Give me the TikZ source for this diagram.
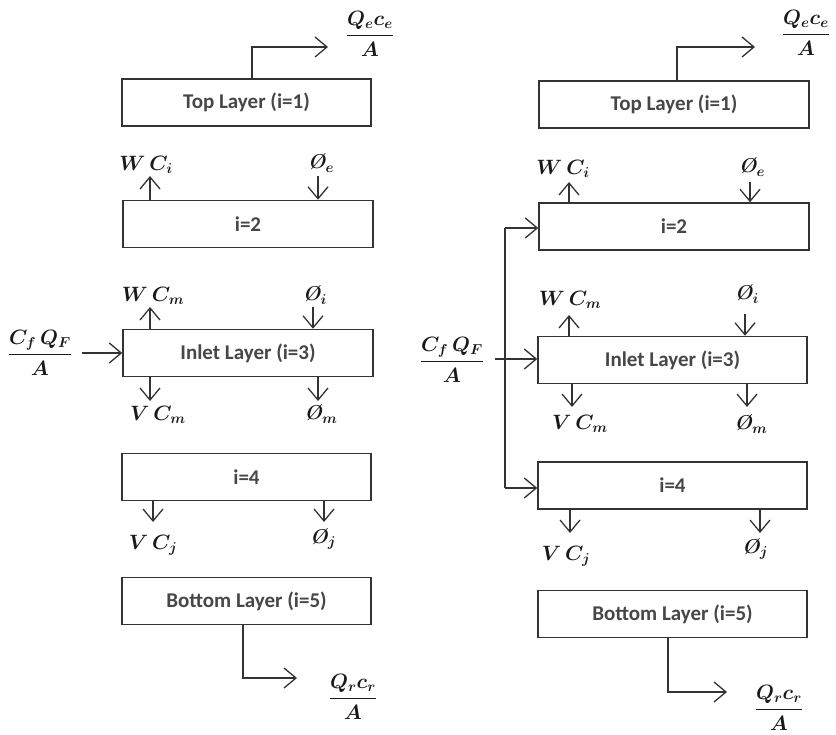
\documentclass[tikz,border=0pt]{standalone}
\usepackage{amsmath}
\usepackage{fontspec}
\newfontfamily\carlito{Carlito}
\usetikzlibrary{arrows.meta}
\newcommand{\bxfont}{\carlito\bfseries\fontsize{21}{24}\selectfont}
\newcommand{\lbfont}{\fontsize{20}{23}\selectfont\boldmath}
\newcommand{\frfont}{\fontsize{20}{23}\selectfont\boldmath}
\newcommand{\OO}{\text{\bfseries\itshape Ø}}
\begin{document}
\begin{tikzpicture}[x=1pt,y=-1pt,
  box/.style={draw=black!80, line width=1.5pt, minimum height=47pt, inner sep=0pt, font=\bxfont, text=black!72},
  arr/.style={draw=black!80, line width=1.3pt, -{Straight Barb[length=12pt,width=20pt,line width=1.3pt]}},
  ln/.style={draw=black!80, line width=1.3pt},
  lab/.style={font=\lbfont, inner sep=0pt, text=black!90},
  frac/.style={font=\frfont, inner sep=0pt, text=black!90}]
\useasboundingbox (0,0) rectangle (836,735);
% ---------------- left column ----------------
\node[box, minimum width=249pt] (t1) at (246.5,102.5) {Top Layer (i=1)};
\node[box, minimum width=250pt] (t2) at (248,224) {i=2};
\node[box, minimum width=250pt] (t3) at (248,353) {Inlet Layer (i=3)};
\node[box, minimum width=249pt] (t4) at (246.5,477) {i=4};
\node[box, minimum width=249pt] (t5) at (246.5,601) {Bottom Layer (i=5)};
\node[frac] (qeL) at (370,34) {$\dfrac{Q_e c_e}{A}$};
\node[lab] (wciL) at (146,165) {$W\,C_i$};
\node[lab] (oeL) at (321,163) {$\OO_e$};
\node[lab] (wcmL) at (153,296) {$W\,C_m$};
\node[lab] (oiL) at (315,295) {$\OO_i$};
\node[frac] (cfL) at (40,353) {$\dfrac{C_f\,Q_F}{A}$};
\node[lab] (vcmL) at (158,415) {$V\,C_m$};
\node[lab] (omL) at (321,414) {$\OO_m$};
\node[lab] (vcjL) at (153,545) {$V\,C_j$};
\node[lab] (ojL) at (323,539) {$\OO_j$};
\node[frac] (qrL) at (353,697) {$\dfrac{Q_r c_r}{A}$};
\coordinate (a1) at (252,47);
\coordinate (a1e) at (328,47);
\coordinate (a2) at (150,176);
\coordinate (a3) at (318,176);
\coordinate (a4) at (150,307);
\coordinate (a5) at (313,307);
\coordinate (a6) at (82,353);
\coordinate (a7) at (150,401);
\coordinate (a8) at (318,401);
\coordinate (a9) at (153,522);
\coordinate (a10) at (324,522);
\coordinate (a11) at (243,678);
\coordinate (a11e) at (297,678);
\draw[arr] (t1.north -| a1) -- (a1) -- (a1e);
\draw[arr] (t2.north -| a2) -- (a2);
\draw[arr] (a3) -- (t2.north -| a3);
\draw[arr] (t3.north -| a4) -- (a4);
\draw[arr] (a5) -- (t3.north -| a5);
\draw[arr] (a6) -- (t3.west |- a6);
\draw[arr] (t3.south -| a7) -- (a7);
\draw[arr] (t3.south -| a8) -- (a8);
\draw[arr] (t4.south -| a9) -- (a9);
\draw[arr] (t4.south -| a10) -- (a10);
\draw[arr] (t5.south -| a11) -- (a11) -- (a11e);
% ---------------- right column ----------------
\node[box, minimum width=270pt] (r1) at (674,104.5) {Top Layer (i=1)};
\node[box, minimum width=270pt] (r2) at (674,226.5) {i=2};
\node[box, minimum width=269pt] (r3) at (672.5,360) {Inlet Layer (i=3)};
\node[box, minimum width=269pt] (r4) at (672.5,485.5) {i=4};
\node[box, minimum width=269pt] (r5) at (672.5,614) {Bottom Layer (i=5)};
\node[frac] (qeR) at (806,33) {$\dfrac{Q_e c_e}{A}$};
\node[lab] (wciR) at (563,169) {$W\,C_i$};
\node[lab] (oeR) at (752,167) {$\OO_e$};
\node[lab] (wcmR) at (570,300) {$W\,C_m$};
\node[lab] (oiR) at (747,294) {$\OO_i$};
\node[frac] (cfR) at (452,360) {$\dfrac{C_f\,Q_F}{A}$};
\node[lab] (vcmR) at (580,424) {$V\,C_m$};
\node[lab] (omR) at (751,424) {$\OO_m$};
\node[lab] (vcjR) at (566,556) {$V\,C_j$};
\node[lab] (ojR) at (755,549) {$\OO_j$};
\node[frac] (qrR) at (779,708) {$\dfrac{Q_r c_r}{A}$};
\coordinate (b1) at (677,47);
\coordinate (b1e) at (755,47);
\coordinate (b2) at (569,182);
\coordinate (b3) at (750,182);
\coordinate (b4) at (569,315);
\coordinate (b5) at (745,314);
\coordinate (b6) at (495,359);
\coordinate (b7) at (572,407);
\coordinate (b8) at (747,407);
\coordinate (b9) at (570,533);
\coordinate (b10) at (760,533);
\coordinate (b11) at (668,692);
\coordinate (b11e) at (727,692);
\coordinate (f1) at (505,228);
\coordinate (f2) at (505,488);
\draw[arr] (r1.north -| b1) -- (b1) -- (b1e);
\draw[arr] (r2.north -| b2) -- (b2);
\draw[arr] (b3) -- (r2.north -| b3);
\draw[arr] (r3.north -| b4) -- (b4);
\draw[arr] (b5) -- (r3.north -| b5);
\draw[arr] (b6) -- (r3.west |- b6);
\draw[ln] (f1) -- (f2);
\draw[arr] (f1) -- (r2.west |- f1);
\draw[arr] (f2) -- (r4.west |- f2);
\draw[arr] (r3.south -| b7) -- (b7);
\draw[arr] (r3.south -| b8) -- (b8);
\draw[arr] (r4.south -| b9) -- (b9);
\draw[arr] (r4.south -| b10) -- (b10);
\draw[arr] (r5.south -| b11) -- (b11) -- (b11e);
\end{tikzpicture}
\end{document}
